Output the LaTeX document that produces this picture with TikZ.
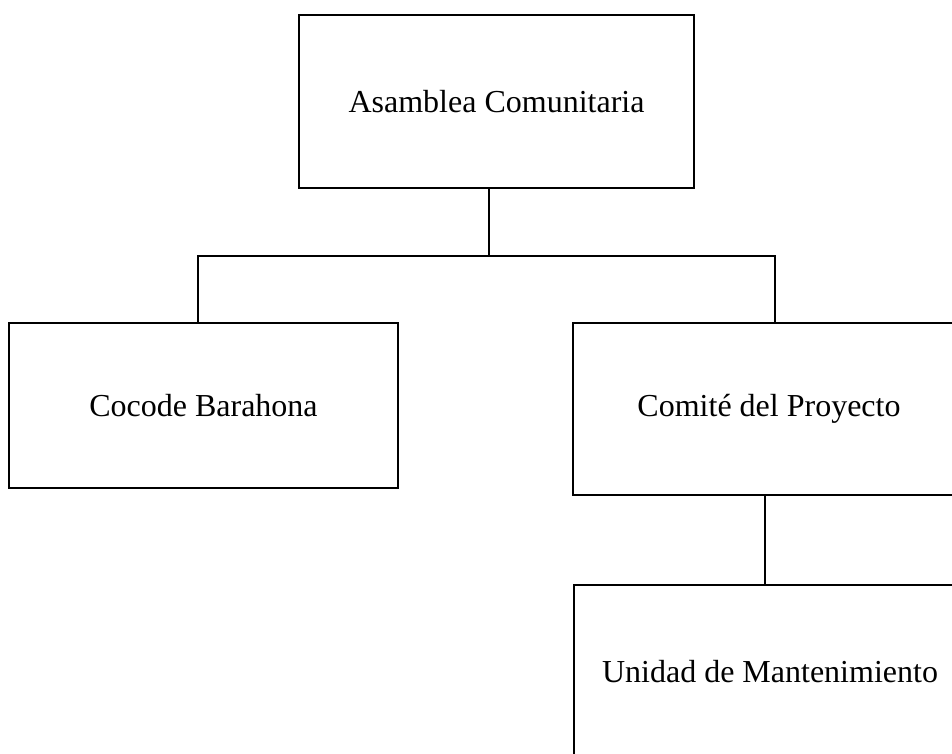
\documentclass[tikz,border=0pt]{standalone}
\usepackage{fontspec}
\setmainfont{Liberation Serif}
\begin{document}
\begin{tikzpicture}[x=1pt,y=-1pt,
  orgbox/.style={draw=black, line width=2.8pt, fill=white, inner sep=0pt,
    font=\fontsize{32}{38}\selectfont, align=center},
  link/.style={draw=black, line width=1.2pt}]
\useasboundingbox (0,0) rectangle (952,753);
\clip (0,0) rectangle (952,753);
\fill[white] (0,0) rectangle (952,753);
% boxes
\node[orgbox, minimum width=395pt, minimum height=173pt] (top) at (496.5,101.5) {Asamblea Comunitaria};
\node[orgbox, minimum width=389pt, minimum height=165pt] (left) at (203.5,405.5) {Cocode Barahona};
\node[orgbox, minimum width=392pt, minimum height=172pt] (right) at (769,409) {Comité del Proyecto};
\node[orgbox, minimum width=392pt, minimum height=173pt] (bottom) at (770,671.5) {Unidad de Mantenimiento};
% bus coordinates
\coordinate (busM) at (489,256);
\coordinate (busL) at (198,256);
\coordinate (busR) at (775,256);
\coordinate (drop) at (765,540);
% connectors
\draw[link] (busM |- top.south) -- (busM);
\draw[link] (busL |- left.north) -- (busL) -- (busR) -- (busR |- right.north);
\draw[link] (drop |- right.south) -- (drop |- bottom.north);
\end{tikzpicture}
\end{document}
